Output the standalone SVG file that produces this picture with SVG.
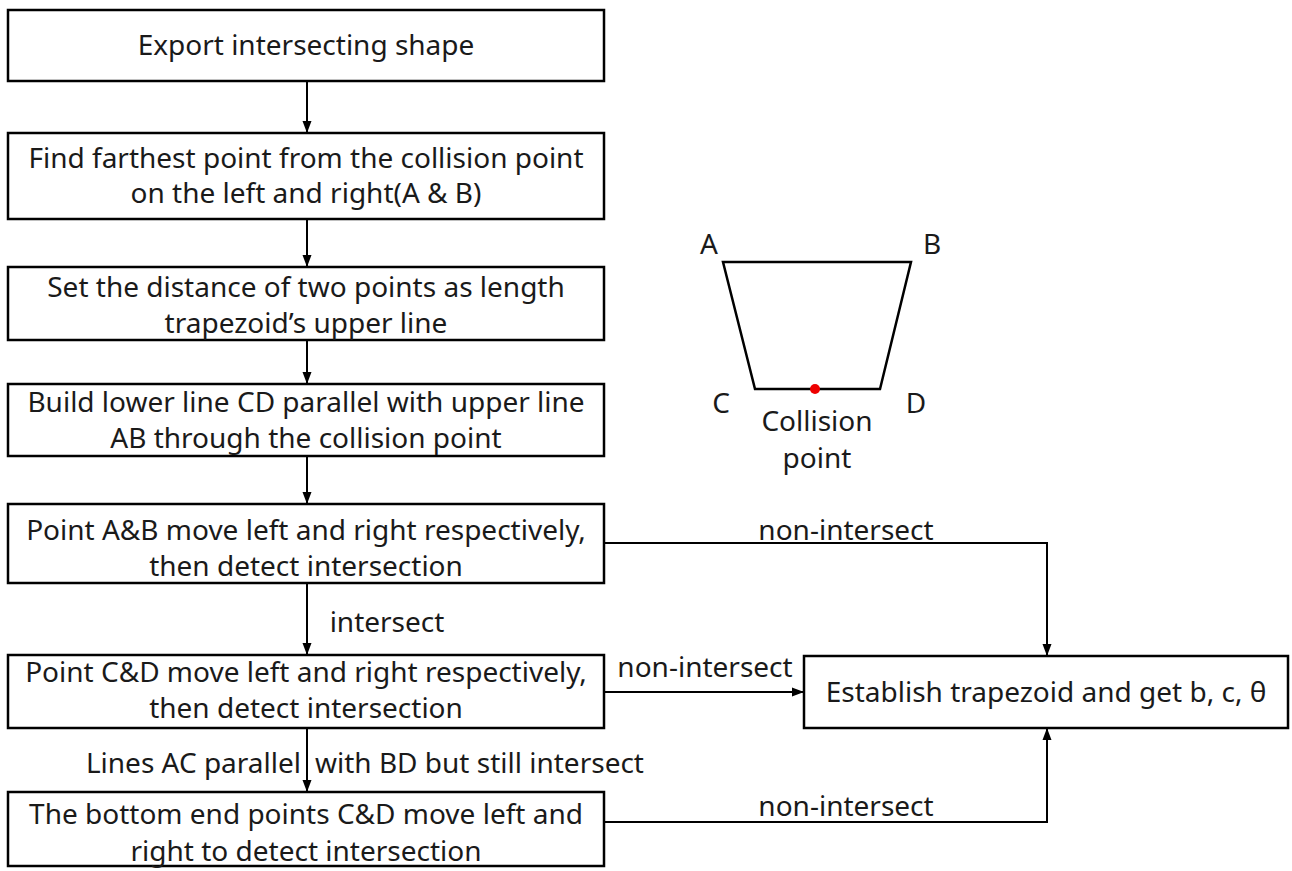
<svg xmlns="http://www.w3.org/2000/svg" width="1292" height="871" viewBox="0 0 1292 871">
<style>
.box{fill:#fff;stroke:#000;stroke-width:2.5}
.t{font-family:"Noto Sans","Open Sans",sans-serif;font-size:28px;fill:#1a1a1a;text-anchor:middle}
.c{fill:none;stroke:#000;stroke-width:2}
</style>
<defs>
<marker id="ah" viewBox="0 0 12 12" refX="12" refY="6" markerWidth="12" markerHeight="12" markerUnits="userSpaceOnUse" orient="auto">
<path d="M0,1.5 L12,6 L0,10.5 Z" fill="#000"/>
</marker>
</defs>
<rect width="1292" height="871" fill="#fff"/>
<g id="connectors">
<line class="c" x1="307" y1="81" x2="307" y2="133" marker-end="url(#ah)"/>
<line class="c" x1="307" y1="219" x2="307" y2="267" marker-end="url(#ah)"/>
<line class="c" x1="307" y1="340" x2="307" y2="384" marker-end="url(#ah)"/>
<line class="c" x1="307" y1="456" x2="307" y2="504" marker-end="url(#ah)"/>
<line class="c" x1="307" y1="583" x2="307" y2="655" marker-end="url(#ah)"/>
<line class="c" x1="307" y1="728" x2="307" y2="792" marker-end="url(#ah)"/>
<polyline class="c" points="604,543 1047,543 1047,656" marker-end="url(#ah)"/>
<line class="c" x1="604" y1="692" x2="804" y2="692" marker-end="url(#ah)"/>
<polyline class="c" points="598,822 1047,822 1047,728" marker-end="url(#ah)"/>
<text class="t" x="846" y="540">non-intersect</text>
<text class="t" x="705" y="677">non-intersect</text>
<text class="t" x="846" y="816">non-intersect</text>
<text class="t" x="387" y="632">intersect</text>
<text class="t" x="301" y="773" style="text-anchor:end">Lines AC parallel</text>
<text class="t" x="315" y="773" style="text-anchor:start">with BD but still intersect</text>
</g>
<g id="n1"><rect class="box" x="8" y="10" width="596" height="71"/><text class="t" x="306" y="55">Export intersecting shape</text></g>
<g id="n2"><rect class="box" x="8" y="133" width="596" height="86"/><text class="t" x="306" y="168">Find farthest point from the collision point</text><text class="t" x="306" y="203">on the left and right(A &amp; B)</text></g>
<g id="n3"><rect class="box" x="8" y="267" width="596" height="73"/><text class="t" x="306" y="297">Set the distance of two points as length</text><text class="t" x="306" y="333">trapezoid’s upper line</text></g>
<g id="n4"><rect class="box" x="8" y="384" width="596" height="72"/><text class="t" x="306" y="412">Build lower line CD parallel with upper line</text><text class="t" x="306" y="448">AB through the collision point</text></g>
<g id="n5"><rect class="box" x="8" y="504" width="596" height="79"/><text class="t" x="306" y="540">Point A&amp;B move left and right respectively,</text><text class="t" x="306" y="576">then detect intersection</text></g>
<g id="n6"><rect class="box" x="8" y="655" width="596" height="73"/><text class="t" x="306" y="682">Point C&amp;D move left and right respectively,</text><text class="t" x="306" y="718">then detect intersection</text></g>
<g id="n7"><rect class="box" x="8" y="792" width="596" height="74"/><text class="t" x="306" y="824">The bottom end points C&amp;D move left and</text><text class="t" x="306" y="861">right to detect intersection</text></g>
<g id="n8"><rect class="box" x="804" y="656" width="484" height="72"/><text class="t" x="1046" y="702">Establish trapezoid and get b, c, θ</text></g>
<g id="trapezoid">
<polygon points="723,262 911,262 880,389 755,389" fill="none" stroke="#000" stroke-width="2.5"/>
<circle cx="815" cy="389" r="5" fill="#e00"/>
<text class="t" x="709" y="254">A</text>
<text class="t" x="932" y="254">B</text>
<text class="t" x="721" y="413">C</text>
<text class="t" x="916" y="413">D</text>
<text class="t" x="817" y="431">Collision</text>
<text class="t" x="817" y="468">point</text>
</g>
</svg>
